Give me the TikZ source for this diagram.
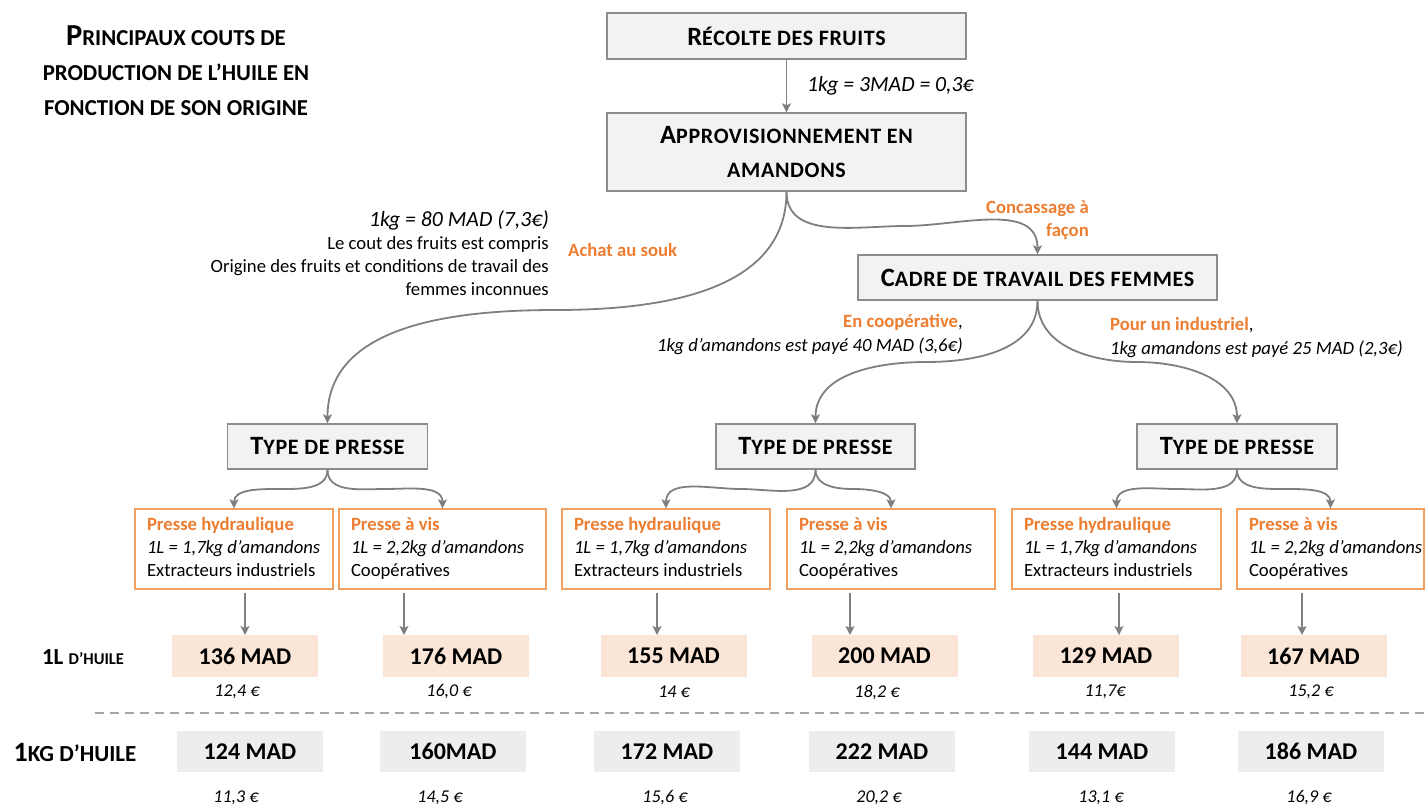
\documentclass[tikz,border=0pt]{standalone}
\usepackage{fontspec}
\setmainfont{Carlito}
\usetikzlibrary{arrows.meta}
\definecolor{lnk}{HTML}{7F7F7F}
\definecolor{bxline}{HTML}{8C8C8C}
\definecolor{bxfill}{HTML}{F2F2F2}
\definecolor{orng}{HTML}{ED7D31}
\definecolor{orngline}{HTML}{F0A060}
\definecolor{pinkfill}{HTML}{FBE5D6}
\definecolor{grayfill}{HTML}{EDEDED}
\definecolor{dashcol}{HTML}{A6A6A6}
\newcommand\SCp[2]{{\fontsize{#1}{#1}\selectfont #2}}
\newcommand\SCb[1]{{\fontsize{22}{22}\selectfont\addfontfeatures{LetterSpace=3}#1}}
\newcommand\fsz[2]{\fontsize{#1}{#2}\selectfont}
\newcommand\otext[4]{\makebox[#1][l]{\begin{tabular}{@{}l@{}}\textcolor{orng}{\bfseries #2}\\\textit{#3}\\#4\end{tabular}}}
\begin{document}
\begin{tikzpicture}[x=1pt,y=-1pt,
  titlebox/.style={draw=bxline,fill=bxfill,line width=1.4pt,inner sep=0pt,font=\bfseries\fsz{26.4}{34}},
  obox/.style={draw=orngline,fill=white,line width=1.4pt,minimum height=80pt,inner xsep=12pt,inner ysep=0pt,font=\fsz{18.7}{23}},
  pbox/.style={fill=pinkfill,minimum width=146pt,minimum height=42pt,inner sep=0pt,font=\bfseries\fsz{24}{24}},
  gbox/.style={fill=grayfill,minimum width=146pt,minimum height=41pt,inner sep=0pt,font=\bfseries\fsz{24}{24}},
  lnkarr/.style={draw=lnk,line width=1.8pt,-{Stealth[length=9pt,width=9pt,inset=2pt]}},
  eur/.style={font=\itshape\fsz{18}{18},inner sep=0pt},
  olab/.style={text=orng,font=\bfseries\fsz{18.7}{22.5},inner sep=0pt},
  ilab/.style={font=\itshape\fsz{21.7}{22},inner sep=0pt}]
\useasboundingbox (0,0) rectangle (1426,807);

% title
\node[align=center,inner sep=0pt,font=\bfseries\fsz{30.5}{35}] (title) at (176,71)
  {P\SCp{22.8}{RINCIPAUX COUTS DE}\\\SCp{22.8}{PRODUCTION DE L’HUILE EN}\\\SCp{22.8}{FONCTION DE SON ORIGINE}};

% main boxes
\node[titlebox,minimum width=359pt,minimum height=46pt] (rec) at (786.5,36) {R\SCb{ÉCOLTE DES FRUITS}};
\node[titlebox,minimum width=359pt,minimum height=78pt,align=center] (app) at (786.5,152)
  {A\SCb{PPROVISIONNEMENT EN}\\\SCb{AMANDONS}};
\node[titlebox,minimum width=359pt,minimum height=45pt] (cad) at (1037.5,277.5) {C\SCb{ADRE DE TRAVAIL DES FEMMES}};

\node[titlebox,minimum width=200pt,minimum height=45pt] (tp1) at (327.5,446.5) {T\SCb{YPE DE PRESSE}};
\node[titlebox,minimum width=199pt,minimum height=45pt] (tp2) at (815.5,446.5) {T\SCb{YPE DE PRESSE}};
\node[titlebox,minimum width=200pt,minimum height=45pt] (tp3) at (1237,446.5) {T\SCb{YPE DE PRESSE}};

% orange boxes
\node[obox,minimum width=198pt] (o1) at (234,549)
  {\otext{174pt}{Presse hydraulique}{1L = 1,7kg d’amandons}{Extracteurs industriels}};
\node[obox,minimum width=207pt] (o2) at (442.5,549)
  {\otext{183pt}{Presse à vis}{1L = 2,2kg d’amandons}{Coopératives}};
\node[obox,minimum width=208pt] (o3) at (666,549)
  {\otext{184pt}{Presse hydraulique}{1L = 1,7kg d’amandons}{Extracteurs industriels}};
\node[obox,minimum width=208pt] (o4) at (891,549)
  {\otext{184pt}{Presse à vis}{1L = 2,2kg d’amandons}{Coopératives}};
\node[obox,minimum width=209pt] (o5) at (1116.5,549)
  {\otext{185pt}{Presse hydraulique}{1L = 1,7kg d’amandons}{Extracteurs industriels}};
\node[obox,minimum width=187pt] (o6) at (1330.5,549)
  {\otext{163pt}{Presse à vis}{1L = 2,2kg d’amandons}{Coopératives}};

% pink boxes
\node[pbox] (p1) at (245,656) {136 MAD};
\node[pbox] (p2) at (456,656) {176 MAD};
\node[pbox] (p3) at (673.5,656) {155 MAD};
\node[pbox] (p4) at (884.5,656) {200 MAD};
\node[pbox] (p5) at (1106,656) {129 MAD};
\node[pbox] (p6) at (1313.5,656) {167 MAD};

\node[eur] (e1) at (237,692) {12,4 €};
\node[eur] (e2) at (449,692) {16,0 €};
\node[eur] (e3) at (674,692) {14 €};
\node[eur] (e4) at (877,692) {18,2 €};
\node[eur] (e5) at (1105,692) {11,7€};
\node[eur] (e6) at (1311,692) {15,2 €};

% gray boxes
\node[gbox] (g1) at (250,751.5) {124 MAD};
\node[gbox] (g2) at (453,751.5) {160MAD};
\node[gbox] (g3) at (667,751.5) {172 MAD};
\node[gbox] (g4) at (882,751.5) {222 MAD};
\node[gbox] (g5) at (1102,751.5) {144 MAD};
\node[gbox] (g6) at (1311,751.5) {186 MAD};

\node[eur] (f1) at (236,798) {11,3 €};
\node[eur] (f2) at (440,798) {14,5 €};
\node[eur] (f3) at (665,798) {15,6 €};
\node[eur] (f4) at (879,798) {20,2 €};
\node[eur] (f5) at (1101,798) {13,1 €};
\node[eur] (f6) at (1309,798) {16,9 €};

% row labels
\node[inner sep=0pt,font=\bfseries\fsz{23}{23}] (r1) at (83,657) {1L \SCp{16.5}{D’HUILE}};
\node[inner sep=0pt,font=\bfseries\fsz{28}{28}] (r2) at (75,752) {1\SCp{23}{KG D’HUILE}};

% dashed separator
\coordinate (d1) at (95,713);
\coordinate (d2) at (1426,713);
\draw[dashcol,line width=2pt,dash pattern=on 9pt off 6pt] (d1) -- (d2);

% labels
\node[ilab,anchor=west] (l0) at (807,86) {1kg = 3MAD = 0,3€};
\node[olab,anchor=east,align=right] (l1) at (1089,220) {Concassage à\\façon};
\node[olab,anchor=west] (l2) at (568,250) {Achat au souk};
\node[anchor=east,align=right,inner sep=0pt,font=\fsz{18.7}{23}] (l3) at (549,253)
  {{\itshape\fsz{21.7}{23}1kg = 80 MAD (7,3€)}\\Le cout des fruits est compris\\Origine des fruits et conditions de travail des\\femmes inconnues};
\node[anchor=east,align=right,inner sep=0pt,font=\fsz{18.7}{24}] (l4) at (963,335)
  {\textcolor{orng}{\bfseries En coopérative},\\\textit{1kg d’amandons est payé 40 MAD (3,6€)}};
\node[anchor=west,align=left,inner sep=0pt,font=\fsz{18.7}{24}] (l5) at (1110,338)
  {\textcolor{orng}{\bfseries Pour un industriel},\\\textit{1kg amandons est payé 25 MAD (2,3€)}};

% connectors
\draw[lnkarr] (rec) -- (app);
\coordinate (m1) at (555,310);
\coordinate (m2) at (905,226);
\coordinate (m3) at (926,362);
\coordinate (m4) at (1137,362);
\draw[lnkarr] (app.south) to[out=-90,in=0] (m1) to[out=180,in=90] (tp1.north);
\draw[lnkarr] (app.south) to[out=-90,in=180] (m2) to[out=0,in=90] (cad.north);
\draw[lnkarr] (cad.south) to[out=-90,in=0] (m3) to[out=180,in=90] (tp2.north);
\draw[lnkarr] (cad.south) to[out=-90,in=180] (m4) to[out=0,in=90] (tp3.north);

\foreach \t/\a/\b in {tp1/o1/o2, tp2/o3/o4, tp3/o5/o6}{
  \path (\t.south) -- (\a.north) coordinate[pos=0.5] (\t-l);
  \path (\t.south) -- (\b.north) coordinate[pos=0.5] (\t-r);
  \draw[lnkarr] (\t.south) to[out=-90,in=0] (\t-l) to[out=180,in=90] (\a.north);
  \draw[lnkarr] (\t.south) to[out=-90,in=180] (\t-r) to[out=0,in=90] (\b.north);
}

\coordinate (v1) at (245,635);
\coordinate (v2) at (404,635);
\coordinate (v3) at (657,635);
\coordinate (v4) at (850,635);
\coordinate (v5) at (1119,635);
\coordinate (v6) at (1302,635);
\foreach \i in {1,...,6}{
  \draw[lnkarr,shorten <=3pt] (o\i.south -| v\i) -- (v\i);
}
\end{tikzpicture}
\end{document}
